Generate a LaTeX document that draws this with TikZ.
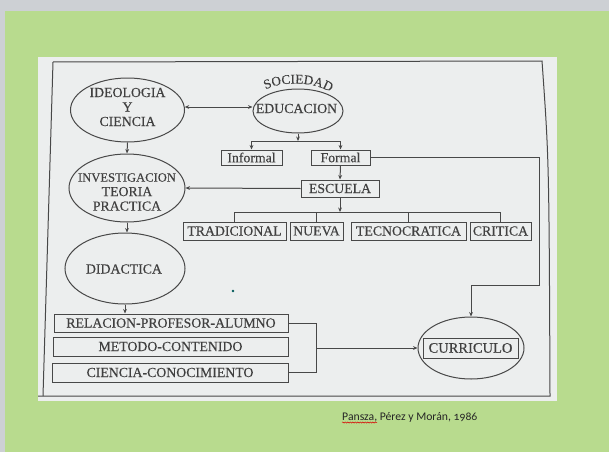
\documentclass[tikz,border=0pt]{standalone}
\usepackage{fontspec}
\setmainfont[FakeBold=0.3]{Liberation Serif}
\newfontfamily\capfont[Numbers=OldStyle]{Carlito}
\usetikzlibrary{shapes.geometric,arrows.meta,decorations.text,decorations.pathmorphing}
\definecolor{bggray}{RGB}{205,208,212}
\definecolor{bggreen}{RGB}{184,219,142}
\definecolor{paper}{RGB}{236,238,238}
\definecolor{ink}{RGB}{64,64,64}
\definecolor{lnk}{RGB}{72,72,72}
\newcommand\diagfont{\fontsize{13.8}{14.5}\selectfont}
\begin{document}
\begin{tikzpicture}[x=1pt,y=-1pt,
  ln/.style={draw=lnk,line width=1pt},
  arr/.style={ln,-{Stealth[length=4.5pt,width=3.8pt]}},
  dbl/.style={ln,{Stealth[length=4.5pt,width=3.8pt]}-{Stealth[length=4.5pt,width=3.8pt]}},
  ell/.style={ellipse,draw=lnk,line width=1pt,inner sep=0pt},
  txt/.style={inner sep=0pt,text=ink,align=center,font=\diagfont},
  box/.style={rectangle,draw=lnk,line width=1pt,inner sep=0pt,text=ink,font=\diagfont}]

\useasboundingbox (0,0) rectangle (609,452);
% background
\fill[bggray] (0,0) rectangle (609,452);
\fill[bggreen] (5,11) rectangle (609,452);
\fill[paper] (38,57) rectangle (557,401);
\draw[ln] (53,62) -- (542,61) .. controls (549,160) .. (550,396) -- (38,396);
\draw[ln] (53,62) -- (43,396);

% ellipses
\node[ell,minimum width=114pt,minimum height=64pt] (ideo) at (127.5,110) {};
\node[txt] (ideot) at (127.5,107) {IDEOLOGIA\\Y\\CIENCIA};
\node[ell,minimum width=90pt,minimum height=44pt] (edu) at (298,111) {};
\node[txt] (edut) at (296.5,108.5) {EDUCACION};
\path[decorate,decoration={text along path,text={|\fontsize{13.3}{13.3}\selectfont|SOCIEDAD},text color=ink,text align=center}]
  (259,94) .. controls (274,80) and (318,79) .. (337,97);
\node[ell,minimum width=116pt,minimum height=68pt] (inv) at (127,188) {};
\node[txt] (invt) at (127,192) {{\fontsize{12.6}{14.5}\selectfont INVESTIGACION}\\TEORIA\\PRACTICA};
\node[ell,minimum width=120pt,minimum height=71pt] (did) at (125,268.5) {};
\node[txt] (didt) at (124,269) {DIDACTICA};
\node[ell,minimum width=106pt,minimum height=62pt] (curr) at (471,348) {};
\node[box,minimum width=95pt,minimum height=20pt,font=\fontsize{14.5}{15}\selectfont] (currb) at (470.5,348) {CURRICULO};

% boxes
\node[box,minimum width=61pt,minimum height=15pt] (inf) at (251.5,157.5) {Informal};
\node[box,minimum width=59pt,minimum height=15pt] (form) at (340.5,157.5) {Formal};
\node[box,minimum width=78pt,minimum height=17pt] (esc) at (340,188.5) {ESCUELA};
\node[box,minimum width=103pt,minimum height=18pt] (trad) at (234.5,231) {TRADICIONAL};
\node[box,minimum width=53pt,minimum height=18pt] (nue) at (316.5,231) {NUEVA};
\node[box,minimum width=115pt,minimum height=18pt] (tec) at (408.5,231) {TECNOCRATICA};
\node[box,minimum width=61pt,minimum height=18pt] (crit) at (500.5,231) {CRITICA};
\node[box,minimum width=234pt,minimum height=18pt] (rel) at (171,323) {RELACION-PROFESOR-ALUMNO};
\node[box,minimum width=235pt,minimum height=19pt] (met) at (170.5,346.5) {METODO-CONTENIDO};
\node[box,minimum width=236pt,minimum height=19pt] (cie) at (170,372.5) {CIENCIA-CONOCIMIENTO};

% connectors
\draw[dbl] (ideo.3) -- (ideo.3 -| edu.west);
\coordinate (j1) at (298,141);
\draw[arr] (edu.south) -- (j1);
\draw[ln] (j1 -| inf) -- (j1 -| form);
\draw[arr] (j1 -| inf) -- (inf.north);
\draw[arr] (j1 -| form) -- (form.north);
\coordinate (rt) at (539,285);
\draw[arr] (form.east) -| (rt) -| (curr.north);
\draw[arr] (form.south) -- (esc.north);
\draw[arr] (esc.west) -- (inv.east);
\coordinate (j2) at (340,212);
\draw[arr] (esc.south) -- (j2);
\draw[ln] (j2 -| trad) -- (j2 -| crit);
\foreach \n in {trad,nue,tec,crit} \draw[ln] (j2 -| \n) -- (\n.north);
\draw[arr] (ideo.south) -- (inv.north);
\draw[arr] (inv.south) -- (inv.south |- did.north);
\draw[arr] (did.south) -- (did.south |- rel.north);
\coordinate (br) at (316,348);
\draw[ln] (rel.east) -| (br);
\draw[ln] (cie.east) -| (br);
\draw[arr] (br) -- (curr.west);

% speck
\fill[teal!70!black] (233,291) circle (1.3pt);

% caption
\node[font=\capfont\fontsize{11.7}{12}\selectfont,text=black!85,anchor=base west,inner sep=0pt] (cap) at (342,420) {Pansza, Pérez y Morán, 1986};
\draw[red!85!black,line width=0.5pt,decorate,decoration={snake,amplitude=0.6pt,segment length=2.5pt}] ([yshift=-2.5pt]cap.base west) -- ++(35,0);
\end{tikzpicture}
\end{document}
